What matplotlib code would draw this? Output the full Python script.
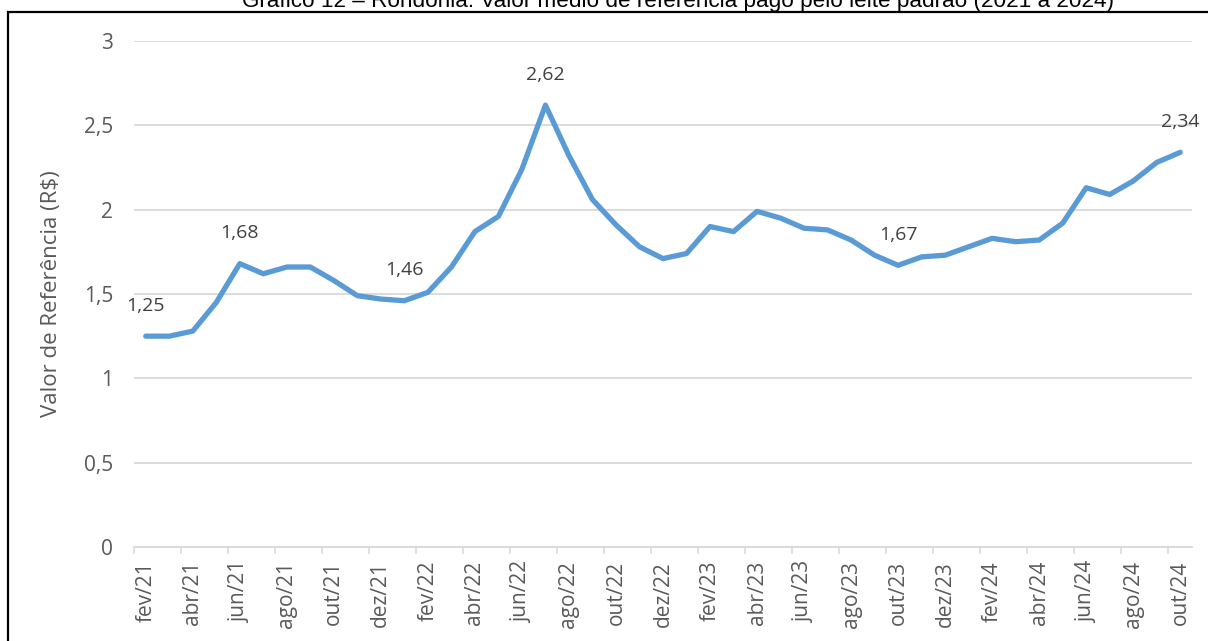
import numpy as np
import matplotlib.pyplot as plt
from matplotlib.patches import Rectangle

# meses de fev/21 a out/24
meses = ['fev/21', 'mar/21', 'abr/21', 'mai/21', 'jun/21', 'jul/21', 'ago/21', 'set/21',
         'out/21', 'nov/21', 'dez/21', 'jan/22', 'fev/22', 'mar/22', 'abr/22', 'mai/22',
         'jun/22', 'jul/22', 'ago/22', 'set/22', 'out/22', 'nov/22', 'dez/22', 'jan/23',
         'fev/23', 'mar/23', 'abr/23', 'mai/23', 'jun/23', 'jul/23', 'ago/23', 'set/23',
         'out/23', 'nov/23', 'dez/23', 'jan/24', 'fev/24', 'mar/24', 'abr/24', 'mai/24',
         'jun/24', 'jul/24', 'ago/24', 'set/24', 'out/24']
valores = [1.25, 1.25, 1.28, 1.45, 1.68, 1.62, 1.66, 1.66, 1.58, 1.49, 1.47, 1.46,
           1.51, 1.66, 1.87, 1.96, 2.24, 2.62, 2.32, 2.06, 1.91, 1.78, 1.71, 1.74,
           1.90, 1.87, 1.99, 1.95, 1.89, 1.88, 1.82, 1.73, 1.67, 1.72, 1.73, 1.78,
           1.83, 1.81, 1.82, 1.92, 2.13, 2.09, 2.17, 2.28, 2.34]
rotulos = [0, 4, 11, 17, 32, 44]  # pontos com rótulo de dados

W, H = 1208, 641
fig = plt.figure(figsize=(W / 100, H / 100), dpi=100)
fonte = ['Open Sans', 'DejaVu Sans']

ax = fig.add_axes([134 / W, (H - 547) / H, (1192 - 134) / W, (547 - 41) / H])
x = np.arange(len(meses))
ax.plot(x, valores, color='#5B9BD5', lw=3.8, solid_joinstyle='round', solid_capstyle='round', zorder=3)

for i in rotulos:
    ax.annotate(f'{valores[i]:.2f}'.replace('.', ','), (x[i], valores[i]),
                xytext=(0, 22), textcoords='offset points', ha='center', va='center',
                fontsize=14, color='#404040', family=fonte)

ax.set_xlim(-0.5, len(meses) - 0.5)
ax.set_ylim(0, 3)
yt = np.arange(0, 3.01, 0.5)
ax.set_yticks(yt)
ax.set_yticklabels([f'{v:g}'.replace('.', ',') for v in yt], family=fonte, fontsize=15, color='#595959')
ax.set_xticks(x[::2])
ax.set_xticklabels(meses[::2], rotation=90, family=fonte, fontsize=15, color='#595959')
ax.set_xticks(np.arange(-0.5, len(meses), 2), minor=True)
ax.tick_params(axis='x', which='major', length=0, pad=10)
ax.tick_params(axis='x', which='minor', length=5, color='#D9D9D9', width=1.2)
ax.tick_params(axis='y', length=0, pad=15)
ax.grid(axis='y', color='#D9D9D9', lw=1.3)
ax.set_axisbelow(True)
for s in ['top', 'right', 'left']:
    ax.spines[s].set_visible(False)
ax.spines['bottom'].set_color('#D9D9D9')
ax.spines['bottom'].set_linewidth(1.3)
ax.set_ylabel('Valor de Referência (R$)', family=fonte, fontsize=16, color='#595959')
ax.yaxis.set_label_coords((62 - 134) / (1192 - 134), 0.5)

# moldura e título cortado
fig.add_artist(Rectangle((8 / W, -0.1), 1.2, 1 - 12 / H + 0.1, transform=fig.transFigure,
                         fill=False, ec='black', lw=1.6))
fig.text(678 / W, 1 - 7 / H, 'Gráfico 12 – Rondônia: Valor médio de referência pago pelo leite padrão (2021 a 2024)',
         ha='center', va='baseline', fontsize=16.2, family=['Liberation Sans'], color='black')

fig.savefig('out.png', dpi=100)
